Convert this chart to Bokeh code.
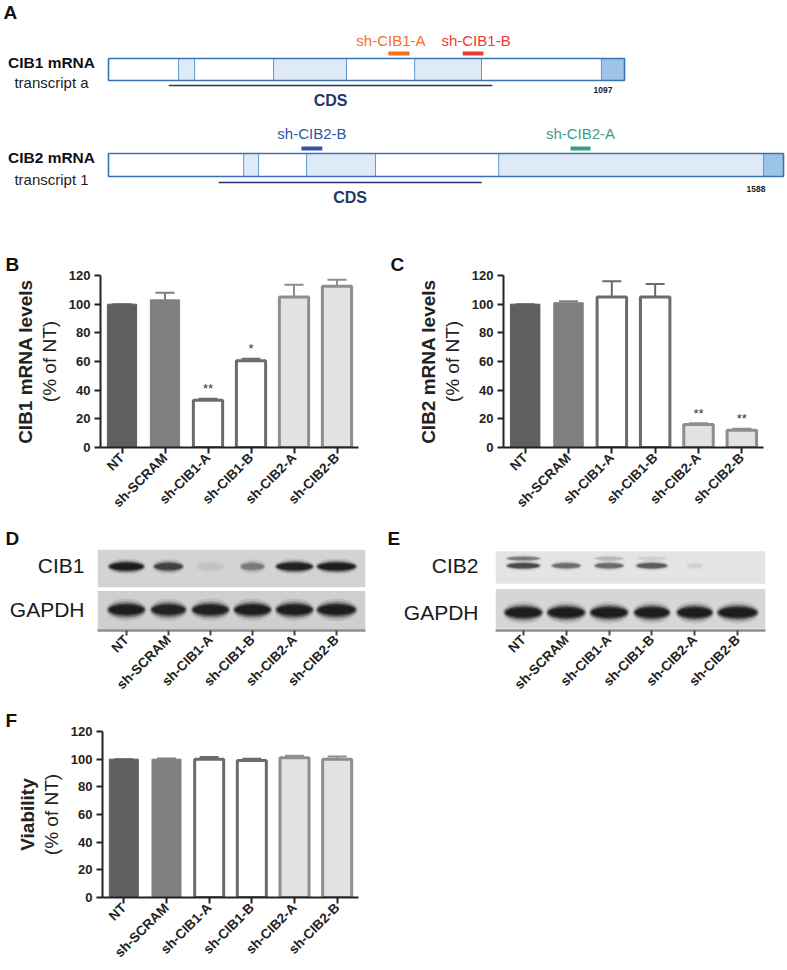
from math import pi
from bokeh.plotting import figure
from bokeh.layouts import row
from bokeh.models import (Range1d, FactorRange, FixedTicker, Title,
                          BoxAnnotation, ColumnDataSource)
from bokeh.core.properties import value
from bokeh.embed import file_html
from bokeh.resources import INLINE

# ------------------------------------------------------------------ data
samples = ["NT", "sh-SCRAM", "sh-CIB1-A", "sh-CIB1-B", "sh-CIB2-A", "sh-CIB2-B"]

cib1_mrna = [100, 103, 33, 60.5, 105, 112.5]
cib1_mrna_err = [100, 108, 34, 62, 113.5, 117]      # upper end of error bar
cib1_sig = ["", "", "**", "*", "", ""]

cib2_mrna = [100, 101, 105, 105, 16, 12]
cib2_mrna_err = [100, 102, 116, 114, 17, 13]
cib2_sig = ["", "", "", "", "**", "**"]

viability = [100, 100, 100, 99, 101, 100]
viability_err = [100, 100.5, 101.5, 100.3, 102.5, 102]
viability_sig = ["", "", "", "", "", ""]

y_ticks = [0, 20, 40, 60, 80, 100, 120]

# western blots: relative band intensity and band width (lane units)
wb_cib1 = [1.0, 0.62, 0.04, 0.3, 0.95, 1.0]
wb_cib1_w = [0.86, 0.72, 0.7, 0.6, 0.9, 0.95]
wb_gapdh_d = [1.0, 0.92, 0.95, 1.0, 1.0, 1.0]
wb_gapdh_d_w = [0.9, 0.85, 0.9, 0.9, 0.9, 0.95]
wb_cib2 = [0.6, 0.4, 0.42, 0.5, 0.04, 0.0]
wb_cib2_w = [0.8, 0.7, 0.7, 0.75, 0.4, 0.5]
wb_cib2_upper = [0.35, 0.0, 0.12, 0.05, 0.0, 0.0]
wb_gapdh_e = [1.0, 1.0, 1.0, 1.0, 1.0, 1.0]
wb_gapdh_e_w = [0.9, 0.9, 0.9, 0.85, 0.85, 0.95]

# transcript maps (nt)
cib1_len = 1097
cib1_exons = [[149, 183], [351, 506], [651, 793]]
cib1_end = [1048, 1097]
cib1_cds = [128, 816]
cib1_sh = ["sh-CIB1-A", "sh-CIB1-B"]
cib1_sh_start = [595, 753]
cib1_sh_end = [640, 797]

cib2_len = 1588
cib2_exons = [[318, 353], [466, 628], [918, 1541]]
cib2_end = [1541, 1588]
cib2_cds = [259, 878]
cib2_sh = ["sh-CIB2-B", "sh-CIB2-A"]
cib2_sh_start = [454, 1087]
cib2_sh_end = [503, 1134]

# ------------------------------------------------------------------ style
FONT = value("Liberation Sans")
FONT_S = "Liberation Sans"
bar_fill = ["#5f5f5f", "#7f7f7f", "#ffffff", "#ffffff", "#e2e2e2", "#e2e2e2"]
bar_line = ["#5f5f5f", "#7f7f7f", "#6b6b6b", "#6b6b6b", "#8e8e8e", "#8e8e8e"]
bar_lw = [1, 1, 3, 3, 3, 3]

W = 787


def panel_letter(p, letter, offset):
    p.title.text = letter
    p.title.align = "left"
    p.title.offset = offset
    p.title.standoff = 1
    p.title.text_font = FONT_S
    p.title.text_font_size = "19px"
    p.title.text_font_style = "bold"
    p.title.text_color = "#111111"


# ------------------------------------------------------------------ panel A
HA = 213
box_left = 108
cib1_right = 624
cib2_right = 783
s1 = cib1_len / (cib1_right - box_left)
s2 = cib2_len / (cib2_right - box_left)

pa = figure(width=W, height=HA, x_range=Range1d(-box_left * s1, (W - box_left) * s1),
            y_range=Range1d(HA, 0), x_axis_type=None, y_axis_type=None,
            output_backend="svg", toolbar_location=None, min_border=0)
pa.extra_x_ranges = {"cib2": Range1d(-box_left * s2, (W - box_left) * s2),
                     "px": Range1d(0, W)}
pa.grid.visible = False
pa.outline_line_color = None

pa.text(x=[3], y=[1], text=["A"], x_range_name="px", text_font=FONT,
        text_font_size="19px", text_font_style="bold", text_baseline="top",
        text_align="left", text_color="#111111")


def transcript(rn, length, exons, end, cds, shn, shs, she, shc, shoff, top, h,
               name, sub, dy, len_off):
    pa.quad(left=[0], right=[length], top=[top], bottom=[top + h], fill_color="white",
            line_color=None, x_range_name=rn)
    pa.quad(left=[e[0] for e in exons], right=[e[1] for e in exons],
            top=top, bottom=top + h, fill_color="#deebf7", line_color="#5b9bd5",
            line_width=1, x_range_name=rn)
    pa.quad(left=[end[0]], right=[end[1]], top=[top], bottom=[top + h],
            fill_color="#9dc3e6", line_color="#5b9bd5", line_width=1, x_range_name=rn)
    pa.quad(left=[0], right=[length], top=[top], bottom=[top + h], fill_alpha=0,
            line_color="#3a72b5", line_width=1.6, x_range_name=rn)
    pa.segment(x0=shs, x1=she, y0=top - 5, y1=top - 5, line_width=4, line_color=shc,
               x_range_name=rn)
    pa.text(x=[(a + b) / 2 for a, b in zip(shs, she)], y=top - 18 - dy, text=shn,
            x_offset=shoff, text_color=shc, text_font=FONT, text_font_size="15px",
            text_align="center", text_baseline="middle", x_range_name=rn)
    pa.segment(x0=[cds[0]], x1=[cds[1]], y0=top + 27 + dy, y1=top + 27 + dy,
               line_width=1.6, line_color="#1f3a6e", x_range_name=rn)
    pa.text(x=[(cds[0] + cds[1]) / 2], y=[top + 42 + dy], text=["CDS"],
            text_color="#1f3864", text_font=FONT, text_font_size="16px",
            text_font_style="bold", text_align="center", text_baseline="middle",
            x_range_name=rn)
    pa.text(x=[length], y=[top + 31 + 2 * dy], text=[str(length)], x_offset=len_off,
            text_color="#222222", text_font=FONT, text_font_size="8.5px",
            text_font_style="bold", text_align="right", text_baseline="middle",
            x_range_name=rn)
    pa.text(x=[51], y=[top + 4], text=[name], x_range_name="px", text_font=FONT,
            text_font_size="15.5px", text_font_style="bold", text_align="center",
            text_baseline="middle", text_color="#111111")
    pa.text(x=[51], y=[top + 24 + dy], text=[sub], x_range_name="px", text_font=FONT,
            text_font_size="15px", text_align="center", text_baseline="middle",
            text_color="#222222")


transcript("default", cib1_len, cib1_exons, cib1_end, cib1_cds, cib1_sh,
           cib1_sh_start, cib1_sh_end, ["#f4701f", "#ec3a32"], [-8, 3], 58, 22,
           "CIB1 mRNA", "transcript a", 0, -12)
transcript("cib2", cib2_len, cib2_exons, cib2_end, cib2_cds, cib2_sh,
           cib2_sh_start, cib2_sh_end, ["#2f55a0", "#3a9e86"], [0, 0], 153, 23,
           "CIB2 mRNA", "transcript 1", 2, -18)


# ------------------------------------------------------------------ bar panels
def bar_panel(vals, errs, sig, title_bold, letter, w, h, mbl, mbr, mbt, mbb, loff):
    p = figure(x_range=FactorRange(*samples, range_padding=0), y_range=Range1d(0, 120),
               width=w, height=h, min_border_left=mbl,
               min_border_right=mbr, min_border_top=mbt, min_border_bottom=mbb,
               output_backend="svg", toolbar_location=None)
    p.grid.visible = False
    p.outline_line_color = None
    src = ColumnDataSource(dict(x=samples, top=vals, err=errs, fill=bar_fill,
                                line=bar_line, lw=bar_lw, sig=sig,
                                sy=[e + 7 for e in errs]))
    p.segment(x0="x", y0="top", x1="x", y1="err", line_color="line", line_width=2,
              source=src)
    p.scatter(x="x", y="err", marker="dash", size=19, line_color="line",
              line_width=2, source=src)
    p.vbar(x="x", top="top", width=0.68, fill_color="fill", line_color="line",
           line_width="lw", source=src)
    p.text(x="x", y="sy", text="sig", text_font=FONT, text_font_size="13px",
           text_align="center", text_baseline="middle", text_color="#333333",
           source=src)
    for ax in (p.xaxis[0], p.yaxis[0]):
        ax.axis_line_width = 2
        ax.axis_line_color = "#222222"
        ax.major_tick_line_width = 2
        ax.major_tick_line_color = "#222222"
        ax.major_tick_in = 0
        ax.major_tick_out = 6
        ax.minor_tick_line_color = None
        ax.major_label_text_font = FONT_S
        ax.major_label_text_font_style = "bold"
        ax.major_label_text_color = "#222222"
    p.xaxis.major_label_orientation = pi / 4
    p.xaxis.major_label_text_font_size = "13.5px"
    p.xaxis.major_label_standoff = 2
    p.yaxis.ticker = FixedTicker(ticks=y_ticks)
    p.yaxis.major_label_text_font_size = "13px"
    p.yaxis.major_label_standoff = 4
    p.yaxis.axis_label = "(% of NT)"
    p.yaxis.axis_label_text_font = FONT_S
    p.yaxis.axis_label_text_font_style = "normal"
    p.yaxis.axis_label_text_font_size = "19px"
    p.yaxis.axis_label_text_color = "#222222"
    p.yaxis.axis_label_standoff = 6
    p.add_layout(Title(text=title_bold, align="center", text_font=FONT_S,
                       text_font_size="19px", text_font_style="bold",
                       text_color="#222222", standoff=0), "left")
    panel_letter(p, letter, loff)
    return p


pb = bar_panel(cib1_mrna, cib1_mrna_err, cib1_sig, "CIB1 mRNA levels", "B",
               388, 312, 100, 30, 62, 78, -95)
pc = bar_panel(cib2_mrna, cib2_mrna_err, cib2_sig, "CIB2 mRNA levels", "C",
               399, 312, 115, 24, 62, 78, -113)
pf = bar_panel(viability, viability_err, viability_sig, "Viability", "F",
               388, 268, 102, 30, 31, 67, -97)


# ------------------------------------------------------------------ blot panels
BAND_LAYERS = [(1.08, 1.6, 0.10), (1.04, 1.3, 0.16), (1.0, 1.08, 0.3),
               (0.95, 0.85, 0.55), (0.88, 0.6, 0.7)]


def blot_panel(w, h, mbl, mbr, mbt, mbb, pad, bands, panels, label_ticks,
               labels, standoff, letter, loff):
    fh = h - mbt - mbb
    p = figure(x_range=FactorRange(*samples, range_padding=pad), y_range=Range1d(0, fh),
               width=w, height=h, min_border_left=mbl,
               min_border_right=mbr, min_border_top=mbt, min_border_bottom=mbb,
               output_backend="svg", toolbar_location=None)
    p.grid.visible = False
    p.outline_line_color = None
    for (b0, b1, col) in panels:
        p.add_layout(BoxAnnotation(bottom=b0, top=b1, fill_color=col, fill_alpha=1,
                                   line_color=None, level="underlay"))
    for (inten, widths, yb, hb) in bands:
        for (sw, sh, am) in BAND_LAYERS:
            src = ColumnDataSource(dict(x=samples, y=[yb] * 6,
                                        w=[wd * sw for wd in widths],
                                        a=[i * am for i in inten]))
            p.ellipse(x="x", y="y", width="w", height=hb * sh, height_units="screen",
                      fill_color="#101010", fill_alpha="a", line_color=None, source=src)
    xa = p.xaxis[0]
    xa.axis_line_color = "#8c8c8c"
    xa.axis_line_width = 2.5
    xa.major_tick_line_color = "#444444"
    xa.major_tick_line_width = 2
    xa.major_tick_in = 0
    xa.major_tick_out = 5
    xa.major_label_orientation = pi / 4
    xa.major_label_text_font = FONT_S
    xa.major_label_text_font_style = "bold"
    xa.major_label_text_font_size = "13.5px"
    xa.major_label_text_color = "#222222"
    xa.major_label_standoff = 2
    ya = p.yaxis[0]
    ya.ticker = FixedTicker(ticks=label_ticks)
    ya.major_label_overrides = {t: s for t, s in zip(label_ticks, labels)}
    ya.axis_line_color = None
    ya.major_tick_line_color = None
    ya.major_tick_out = 0
    ya.major_tick_in = 0
    ya.minor_tick_line_color = None
    ya.minor_tick_out = 0
    ya.major_label_text_font = FONT_S
    ya.major_label_text_font_size = "21px"
    ya.major_label_text_color = "#1a1a1a"
    ya.major_label_standoff = standoff
    panel_letter(p, letter, loff)
    return p


pd_ = blot_panel(388, 175, 97, 23, 22, 63, 0.063,
                 [(wb_cib1, wb_cib1_w, 71, 10), (wb_gapdh_d, wb_gapdh_d_w, 23, 14)],
                 [(48, 90, "#d3d3d3"), (1, 44, "#cfcfcf")],
                 [72, 23], ["CIB1", "GAPDH"], 13, "D", -92)
pe = blot_panel(399, 175, 107, 22, 22, 63, 0.05,
                [(wb_cib2, wb_cib2_w, 72, 7), (wb_cib2_upper, wb_cib2_w, 80, 5),
                 (wb_gapdh_e, wb_gapdh_e_w, 20, 14)],
                [(52, 88, "#e4e4e4"), (2, 46, "#d6d6d6")],
                [72, 20], ["CIB2", "GAPDH"], 17, "E", -108)

roots = [pa, row(pb, pc), row(pd_, pe), pf]
open("out.html", "w").write(file_html(roots, INLINE))
